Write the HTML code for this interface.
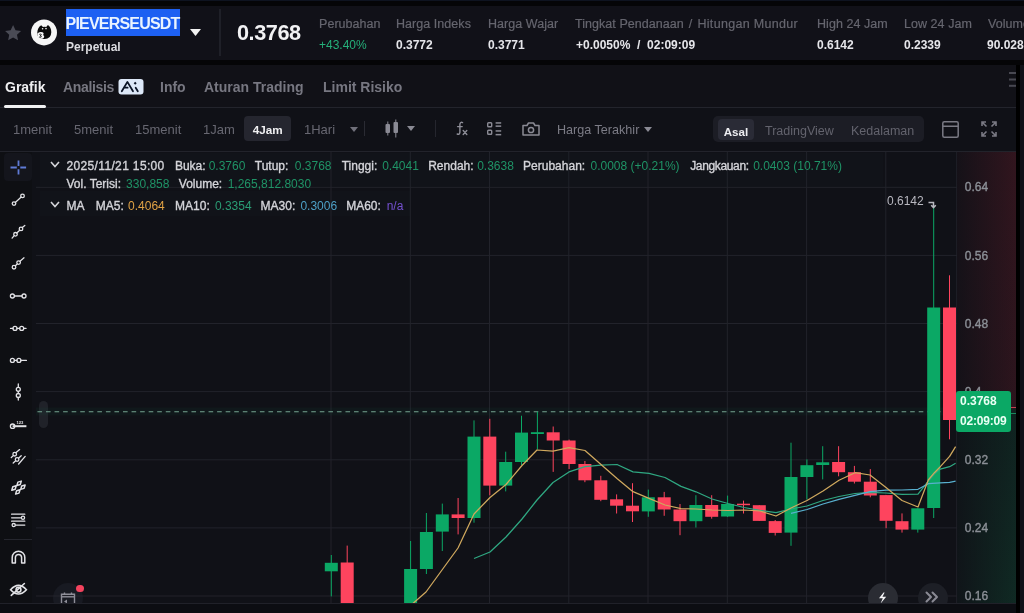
<!DOCTYPE html>
<html><head><meta charset="utf-8">
<style>
*{margin:0;padding:0;box-sizing:border-box}
html,body{width:1024px;height:613px;overflow:hidden;background:#050507;font-family:"Liberation Sans",sans-serif}
#wrap{position:absolute;left:0;top:0;width:1024px;height:613px;will-change:transform}
.a{position:absolute;white-space:nowrap}
#top{position:absolute;left:0;top:0;width:1024px;height:1px;background:#0e1320}
#hdr{position:absolute;left:0;top:6px;width:1024px;height:54px;background:#111118}
#tabs{position:absolute;left:0;top:65px;width:1016px;height:43px;background:#111117}
#tbar{position:absolute;left:0;top:107px;width:1016px;height:45px;background:#101117;border-top:1px solid #23242c}
#chart{position:absolute;left:0;top:151px;width:1016px;height:452px;background:#101117;border-top:1px solid #22232b}
#ltb{position:absolute;left:0;top:152px;width:32px;height:451px;background:#0e0f13}
#bot{position:absolute;left:0;top:603px;width:1016px;height:10px;background:#0c0d12;border-top:1px solid #202129}
#rstrip{position:absolute;left:1016px;top:65px;width:4px;height:548px;background:#000}
#rstrip2{position:absolute;left:1020px;top:65px;width:4px;height:548px;background:#0f1118}
.lbl{color:#66666f;font-size:12.5px;letter-spacing:0.05px;-webkit-text-stroke:0.2px #66666f;top:16.8px}
.val{color:#e6e6ea;font-size:12px;font-weight:bold}
.tab{color:#777781;font-size:14px;font-weight:bold;top:78.5px}
.tf{color:#676771;font-size:13px}
.lg{font-size:12px;color:#d4d4d9;-webkit-text-stroke:0.35px #d4d4d9}
.lgv{font-size:12px}
.gn{color:#1f9366}
</style></head><body><div id="wrap">
<div id="top"></div>
<div id="hdr"></div>
<!-- header content -->
<svg class="a" style="left:3px;top:23.2px" width="20.2" height="20.2" viewBox="0 0 24 24"><path d="M12 2.5l2.9 6.1 6.6.8-4.9 4.6 1.3 6.6L12 17.3l-5.9 3.3 1.3-6.6-4.9-4.6 6.6-.8z" fill="#4a4b55"/></svg>
<svg class="a" style="left:28px;top:16px" width="32" height="32" viewBox="0 0 32 32">
<circle cx="16" cy="16.4" r="13" fill="#f6f6f6"/>
<path d="M9.3 16.5 Q9.5 11.5 13.2 9.3 L15 11 Q16.6 10.5 18.2 11 L19.9 9.1 Q23.3 11.5 23.3 16.3 Q23.1 23 16.6 23.1 Q11.6 23.2 9.6 19.8 Z" fill="#0a0a0a"/>
<path d="M9.6 17.2 Q12 15.3 14.5 16.2 Q16.5 17.3 15 19 Q16.9 19.8 16 21.6 Q14.5 23.4 11.8 22.6 Q9.6 21.6 9.4 19.2 Z" fill="#f6f6f6"/>
<path d="M11.3 18.4 Q12.8 17.8 13.4 18.6 Q13.2 19.4 12.2 19.6 Q13.6 20 13.2 21 Q12.4 21.6 11.2 21" fill="none" stroke="#0a0a0a" stroke-width="0.9"/>
<circle cx="14.6" cy="12.8" r="0.8" fill="#f6f6f6"/><circle cx="18" cy="12.6" r="0.8" fill="#f6f6f6"/>
</svg>
<div class="a" style="left:65.7px;top:8.8px;width:114.3px;height:26.8px;background:#1d60f2"></div>
<div class="a" style="left:65.6px;top:12.2px;font-size:16px;letter-spacing:-0.8px;font-weight:bold;color:#eaf4ff;line-height:24px">PIEVERSEUSDT</div>
<div class="a" style="left:66px;top:40px;font-size:12px;font-weight:bold;color:#dcdce0">Perpetual</div>
<svg class="a" style="left:190px;top:29px" width="11" height="7"><path d="M0 0H11L5.5 7Z" fill="#f2f2f2"/></svg>
<div class="a" style="left:219.2px;top:8.5px;width:1.5px;height:47px;background:#1f2028"></div>
<div class="a" style="left:237px;top:20px;font-size:21.7px;letter-spacing:-0.45px;font-weight:bold;color:#f2f2f4">0.3768</div>

<div class="a lbl" style="left:319px">Perubahan</div>
<div class="a" style="left:319px;top:38px;font-size:12px;color:#25b07a">+43.40%</div>
<div class="a lbl" style="left:396px">Harga Indeks</div>
<div class="a val" style="left:396px;top:38px">0.3772</div>
<div class="a lbl" style="left:488px">Harga Wajar</div>
<div class="a val" style="left:488px;top:38px">0.3771</div>
<div class="a lbl" style="left:575px">Tingkat Pendanaan <span style="margin:0 1.5px">/</span> <span style="letter-spacing:0.32px">Hitungan Mundur</span></div>
<div class="a val" style="left:576px;top:38px">+0.0050%&nbsp; / &nbsp;02:09:09</div>
<div class="a lbl" style="left:817px">High 24 Jam</div>
<div class="a val" style="left:817px;top:38px">0.6142</div>
<div class="a lbl" style="left:904px">Low 24 Jam</div>
<div class="a val" style="left:904px;top:38px">0.2339</div>
<div class="a lbl" style="left:988px">Volume</div>
<div class="a val" style="left:987px;top:38px">90.028</div>

<div id="tabs"></div>
<div class="a" style="left:5px;top:78.5px;font-size:14px;font-weight:bold;color:#f0f0f2">Grafik</div>
<div class="a" style="left:4.2px;top:105.2px;width:41.4px;height:2.6px;border-radius:1.5px;background:#f0f0f2;z-index:2"></div>
<div class="a tab" style="left:63px;letter-spacing:-0.35px">Analisis</div>
<svg class="a" style="left:117.5px;top:78.5px" width="26" height="16" viewBox="0 0 26 16"><rect x="0.5" y="0" width="25" height="15.5" rx="3" fill="#dde8f8"/><g fill="none" stroke="#0b1426" stroke-width="1.8" stroke-linecap="round" stroke-linejoin="round"><path d="M3.8 12.2L9.4 2.9L15 12.2"/><path d="M7 8.7H9.6"/><path d="M17.7 8.8L19.8 12.2"/></g><path d="M17.2 2.8L18.7 4.3L17.2 5.8L15.7 4.3Z" fill="#0b1426"/></svg>
<div class="a tab" style="left:160px;">Info</div>
<div class="a tab" style="left:204px;">Aturan Trading</div>
<div class="a tab" style="left:323px;">Limit Risiko</div>
<div class="a" style="left:1009px;top:72.3px;width:7px;height:1.7px;background:#484851;box-shadow:0 6.5px 0 #484851,0 12.8px 0 #484851"></div>

<div id="tbar"></div>
<div class="a tf" style="left:13px;top:122px">1menit</div>
<div class="a tf" style="left:74px;top:122px">5menit</div>
<div class="a tf" style="left:135px;top:122px">15menit</div>
<div class="a tf" style="left:203px;top:122px">1Jam</div>
<div class="a" style="left:244px;top:116px;width:47px;height:25px;border-radius:4px;background:#25262f"></div>
<div class="a" style="left:252.8px;top:122.5px;font-size:11.7px;font-weight:bold;color:#f0f0f2">4Jam</div>
<div class="a tf" style="left:304px;top:122px">1Hari</div>
<svg class="a" style="left:350px;top:127px" width="8" height="5"><path d="M0 0H8L4 5Z" fill="#70707a"/></svg>
<div class="a" style="left:364px;top:121px;width:1px;height:15px;background:#2a2b33"></div>
<svg class="a" style="left:384px;top:119px" width="16" height="19" viewBox="0 0 16 19"><g fill="#8a8a94"><rect x="1.5" y="5" width="4.5" height="9" rx="1"/><rect x="3.3" y="2.5" width="1" height="14"/><rect x="9.5" y="3" width="4.5" height="11" rx="1"/><rect x="11.3" y="0.5" width="1" height="18"/></g></svg>
<svg class="a" style="left:407px;top:126px" width="8" height="5"><path d="M0 0H8L4 5Z" fill="#8a8a94"/></svg>
<div class="a" style="left:434.8px;top:120px;width:1px;height:17px;background:#25262e"></div>
<svg class="a" style="left:454px;top:121px" width="15" height="15" viewBox="0 0 15 15"><g fill="none" stroke="#8e8e98" stroke-width="1.4" stroke-linecap="round"><path d="M8.6 1.6Q6.4 0.6 5.9 3.2L5.9 11.2Q5.6 14 3.2 13"/><path d="M3.6 5.6H8.2"/><path d="M9.2 9.6L12.8 13.4M12.8 9.6L9.2 13.4"/></g></svg>
<svg class="a" style="left:487px;top:122px" width="15" height="14" viewBox="0 0 15 14"><g fill="none" stroke="#8a8a94" stroke-width="1.4"><rect x="0.7" y="0.7" width="4" height="4" rx="0.8"/><rect x="0.7" y="8.3" width="4" height="4" rx="0.8"/></g><g fill="#8a8a94"><rect x="8.6" y="0.2" width="5.6" height="1.5"/><rect x="8.6" y="3.4" width="5.6" height="1.5"/><rect x="8.6" y="8.2" width="5.6" height="1.5"/><rect x="8.6" y="11.9" width="5.6" height="1.5"/></g></svg>
<svg class="a" style="left:522px;top:122px" width="18" height="14" viewBox="0 0 18 14"><path d="M1 3.5h4l1.5-2.5h5L13 3.5h4V13H1Z" fill="none" stroke="#8a8a94" stroke-width="1.5" stroke-linejoin="round"/><circle cx="9" cy="8" r="2.6" fill="none" stroke="#8a8a94" stroke-width="1.5"/></svg>
<div class="a tf" style="left:557px;top:123.2px;color:#7c7c86;font-size:12.6px">Harga Terakhir</div>
<svg class="a" style="left:644px;top:127px" width="8" height="5"><path d="M0 0H8L4 5Z" fill="#8a8a94"/></svg>

<div class="a" style="left:713px;top:116px;width:211px;height:26px;border-radius:5px;background:#1c1d25"></div>
<div class="a" style="left:718px;top:119px;width:36px;height:20.5px;border-radius:4px;background:#2a2b36"></div>
<div class="a" style="left:723.7px;top:124.5px;font-size:11.6px;font-weight:bold;color:#ececf0">Asal</div>
<div class="a tf" style="left:765px;top:124px;font-size:12.5px;color:#63636d">TradingView</div>
<div class="a tf" style="left:851px;top:124px;font-size:12.5px;color:#63636d">Kedalaman</div>
<svg class="a" style="left:942px;top:121px" width="17" height="17" viewBox="0 0 17 17"><rect x="0.8" y="0.8" width="15.4" height="15.4" rx="1.5" fill="none" stroke="#7a7a84" stroke-width="1.5"/><rect x="1" y="4.5" width="15" height="1.5" fill="#7a7a84"/></svg>
<svg class="a" style="left:981px;top:121px" width="16" height="16" viewBox="0 0 16 16"><g fill="none" stroke="#7a7a84" stroke-width="1.6"><path d="M1 5V1h4M1 1l4.5 4.5M11 1h4v4M15 1l-4.5 4.5M1 11v4h4M1 15l4.5-4.5M15 11v4h-4M15 15l-4.5-4.5"/></g></svg>

<div id="chart"></div><div id="ltb"></div>
<!-- price axis gradient -->
<div class="a" style="left:957px;top:152px;width:59px;height:451px;background:linear-gradient(to bottom,rgba(120,30,45,0.32),rgba(120,30,45,0.27) 56.8%,rgba(15,120,75,0.17) 57.2%,rgba(15,120,75,0.24))"></div>
<div class="a" style="left:957px;top:152px;width:59px;height:451px;background:linear-gradient(to right,rgba(16,17,23,0.85),rgba(16,17,23,0))"></div>
<div class="a" style="left:956px;top:152px;width:1px;height:451px;background:#1c1d25"></div>

<div class="a" style="left:38.5px;top:400.5px;width:9px;height:27.5px;border-radius:4.5px;background:rgba(120,122,135,0.16)"></div>
<svg class="a" style="left:0;top:0" width="1024" height="613">
<line x1="36" y1="187.3" x2="957" y2="187.3" stroke="#22232b" stroke-width="1"/>
<line x1="36" y1="255.4" x2="957" y2="255.4" stroke="#22232b" stroke-width="1"/>
<line x1="36" y1="323.5" x2="957" y2="323.5" stroke="#22232b" stroke-width="1"/>
<line x1="36" y1="391.6" x2="957" y2="391.6" stroke="#22232b" stroke-width="1"/>
<line x1="36" y1="459.8" x2="957" y2="459.8" stroke="#22232b" stroke-width="1"/>
<line x1="36" y1="527.9" x2="957" y2="527.9" stroke="#22232b" stroke-width="1"/>
<line x1="36" y1="596.0" x2="957" y2="596.0" stroke="#22232b" stroke-width="1"/>
<line x1="331.0" y1="152" x2="331.0" y2="603" stroke="#22232b" stroke-width="1"/>
<line x1="410.3" y1="152" x2="410.3" y2="603" stroke="#22232b" stroke-width="1"/>
<line x1="489.5" y1="152" x2="489.5" y2="603" stroke="#22232b" stroke-width="1"/>
<line x1="568.8" y1="152" x2="568.8" y2="603" stroke="#22232b" stroke-width="1"/>
<line x1="648.0" y1="152" x2="648.0" y2="603" stroke="#22232b" stroke-width="1"/>
<line x1="727.3" y1="152" x2="727.3" y2="603" stroke="#22232b" stroke-width="1"/>
<line x1="806.6" y1="152" x2="806.6" y2="603" stroke="#22232b" stroke-width="1"/>
<line x1="885.8" y1="152" x2="885.8" y2="603" stroke="#22232b" stroke-width="1"/>
<rect x="36" y="407.5" width="921" height="8" fill="rgba(20,90,65,0.10)"/>
<line x1="36" y1="411.8" x2="957" y2="411.8" stroke="#74a390" stroke-width="1.1" stroke-dasharray="4.6 3.956" stroke-dashoffset="-1.45"/>
<line x1="331.3" y1="555" x2="331.3" y2="596.4" stroke="#0ba865" stroke-width="1"/>
<rect x="324.8" y="562.8" width="13" height="8.5" fill="#0ba865"/>
<line x1="347.2" y1="545.6" x2="347.2" y2="606" stroke="#fe445e" stroke-width="1"/>
<rect x="340.7" y="562.5" width="13" height="43.5" fill="#fe445e"/>
<line x1="410.6" y1="541" x2="410.6" y2="606" stroke="#0ba865" stroke-width="1"/>
<rect x="404.1" y="569" width="13" height="37.0" fill="#0ba865"/>
<line x1="426.4" y1="513" x2="426.4" y2="574" stroke="#0ba865" stroke-width="1"/>
<rect x="419.9" y="532" width="13" height="37.0" fill="#0ba865"/>
<line x1="442.3" y1="503.6" x2="442.3" y2="551" stroke="#0ba865" stroke-width="1"/>
<rect x="435.8" y="514.4" width="13" height="17.2" fill="#0ba865"/>
<line x1="458.1" y1="498" x2="458.1" y2="534.4" stroke="#fe445e" stroke-width="1"/>
<rect x="451.6" y="514.4" width="13" height="3.6" fill="#fe445e"/>
<line x1="474.0" y1="420.4" x2="474.0" y2="522.7" stroke="#0ba865" stroke-width="1"/>
<rect x="467.5" y="436.6" width="13" height="81.4" fill="#0ba865"/>
<line x1="489.8" y1="418.8" x2="489.8" y2="495.3" stroke="#fe445e" stroke-width="1"/>
<rect x="483.3" y="436.6" width="13" height="49.0" fill="#fe445e"/>
<line x1="505.7" y1="451.7" x2="505.7" y2="491.4" stroke="#0ba865" stroke-width="1"/>
<rect x="499.2" y="462" width="13" height="23.6" fill="#0ba865"/>
<line x1="521.5" y1="415.7" x2="521.5" y2="465" stroke="#0ba865" stroke-width="1"/>
<rect x="515.0" y="432.6" width="13" height="29.4" fill="#0ba865"/>
<line x1="537.4" y1="411.7" x2="537.4" y2="449.6" stroke="#0ba865" stroke-width="1"/>
<rect x="530.9" y="432.2" width="13" height="1.8" fill="#0ba865"/>
<line x1="553.2" y1="426.5" x2="553.2" y2="471.9" stroke="#fe445e" stroke-width="1"/>
<rect x="546.7" y="432.3" width="13" height="8.2" fill="#fe445e"/>
<line x1="569.1" y1="439.6" x2="569.1" y2="469" stroke="#fe445e" stroke-width="1"/>
<rect x="562.6" y="440.5" width="13" height="23.5" fill="#fe445e"/>
<line x1="584.9" y1="461" x2="584.9" y2="482.2" stroke="#fe445e" stroke-width="1"/>
<rect x="578.4" y="464" width="13" height="16.3" fill="#fe445e"/>
<line x1="600.8" y1="475.8" x2="600.8" y2="501.2" stroke="#fe445e" stroke-width="1"/>
<rect x="594.3" y="480.3" width="13" height="19.5" fill="#fe445e"/>
<line x1="616.6" y1="494.4" x2="616.6" y2="513.5" stroke="#fe445e" stroke-width="1"/>
<rect x="610.1" y="499.3" width="13" height="6.4" fill="#fe445e"/>
<line x1="632.5" y1="483.2" x2="632.5" y2="522" stroke="#fe445e" stroke-width="1"/>
<rect x="626.0" y="505.7" width="13" height="5.6" fill="#fe445e"/>
<line x1="648.3" y1="489.6" x2="648.3" y2="516.8" stroke="#0ba865" stroke-width="1"/>
<rect x="641.8" y="497.3" width="13" height="14.1" fill="#0ba865"/>
<line x1="664.2" y1="491.9" x2="664.2" y2="515.8" stroke="#fe445e" stroke-width="1"/>
<rect x="657.7" y="497.3" width="13" height="12.2" fill="#fe445e"/>
<line x1="680.0" y1="504" x2="680.0" y2="535.2" stroke="#fe445e" stroke-width="1"/>
<rect x="673.5" y="509.5" width="13" height="11.7" fill="#fe445e"/>
<line x1="695.9" y1="495.2" x2="695.9" y2="527.5" stroke="#0ba865" stroke-width="1"/>
<rect x="689.4" y="505" width="13" height="16.2" fill="#0ba865"/>
<line x1="711.7" y1="495.2" x2="711.7" y2="518.7" stroke="#fe445e" stroke-width="1"/>
<rect x="705.2" y="505" width="13" height="11.8" fill="#fe445e"/>
<line x1="727.6" y1="495.6" x2="727.6" y2="517" stroke="#0ba865" stroke-width="1"/>
<rect x="721.1" y="504" width="13" height="12.5" fill="#0ba865"/>
<line x1="743.5" y1="500.6" x2="743.5" y2="513.5" stroke="#fe445e" stroke-width="1"/>
<rect x="737.0" y="503.7" width="13" height="1.5" fill="#fe445e"/>
<line x1="759.3" y1="505.2" x2="759.3" y2="520.9" stroke="#fe445e" stroke-width="1"/>
<rect x="752.8" y="505.2" width="13" height="15.7" fill="#fe445e"/>
<line x1="775.2" y1="520" x2="775.2" y2="535.5" stroke="#fe445e" stroke-width="1"/>
<rect x="768.7" y="521.1" width="13" height="11.8" fill="#fe445e"/>
<line x1="791.0" y1="442.7" x2="791.0" y2="545.8" stroke="#0ba865" stroke-width="1"/>
<rect x="784.5" y="477" width="13" height="55.6" fill="#0ba865"/>
<line x1="806.9" y1="459.4" x2="806.9" y2="499.5" stroke="#0ba865" stroke-width="1"/>
<rect x="800.4" y="465.2" width="13" height="11.8" fill="#0ba865"/>
<line x1="822.7" y1="446.2" x2="822.7" y2="479.4" stroke="#0ba865" stroke-width="1"/>
<rect x="816.2" y="462.3" width="13" height="2.7" fill="#0ba865"/>
<line x1="838.6" y1="446.2" x2="838.6" y2="476.3" stroke="#fe445e" stroke-width="1"/>
<rect x="832.1" y="462" width="13" height="10.2" fill="#fe445e"/>
<line x1="854.4" y1="465.9" x2="854.4" y2="483.5" stroke="#fe445e" stroke-width="1"/>
<rect x="847.9" y="472.2" width="13" height="9.5" fill="#fe445e"/>
<line x1="870.3" y1="469.1" x2="870.3" y2="497.3" stroke="#fe445e" stroke-width="1"/>
<rect x="863.8" y="481.7" width="13" height="13.8" fill="#fe445e"/>
<line x1="886.1" y1="495.1" x2="886.1" y2="528.2" stroke="#fe445e" stroke-width="1"/>
<rect x="879.6" y="495.1" width="13" height="25.7" fill="#fe445e"/>
<line x1="902.0" y1="513.4" x2="902.0" y2="532.6" stroke="#fe445e" stroke-width="1"/>
<rect x="895.5" y="521.2" width="13" height="8.4" fill="#fe445e"/>
<line x1="917.8" y1="508.3" x2="917.8" y2="532.6" stroke="#0ba865" stroke-width="1"/>
<rect x="911.3" y="508.3" width="13" height="21.3" fill="#0ba865"/>
<line x1="933.7" y1="207" x2="933.7" y2="518" stroke="#0ba865" stroke-width="1"/>
<rect x="927.2" y="307.5" width="13" height="200.5" fill="#0ba865"/>
<line x1="949.5" y1="275.3" x2="949.5" y2="439.3" stroke="#fe445e" stroke-width="1"/>
<rect x="943.0" y="307.5" width="13" height="112.5" fill="#fe445e"/>
<polyline points="474.0,558.5 490.0,552.0 506.0,537.0 522.0,519.0 537.0,500.0 553.0,482.5 569.0,471.9 585.0,466.7 601.0,465.2 617.0,464.5 633.0,471.9 649.0,473.3 665.0,477.5 681.0,486.4 696.0,491.8 712.0,499.0 728.0,503.5 744.0,507.5 760.0,510.3 776.0,512.7 791.0,509.0 807.0,506.0 823.0,500.5 839.0,496.5 855.0,493.5 870.0,492.4 886.0,493.0 902.0,494.3 918.0,494.2 928.3,481.2 934.4,474.0 940.3,469.1 949.6,466.7 955.6,463.3" fill="none" stroke="#2fa882" stroke-width="1.25" stroke-linejoin="round"/>
<polyline points="791.0,513.3 807.0,509.5 823.0,504.0 839.0,499.3 855.0,495.3 870.0,491.6 886.0,490.2 902.0,490.0 918.0,489.3 928.3,483.7 940.3,482.8 949.6,482.3 955.6,481.1" fill="none" stroke="#58b0cf" stroke-width="1.25" stroke-linejoin="round"/>
<polyline points="405.0,612.0 410.0,606.0 426.0,592.0 442.0,570.0 458.0,548.0 474.0,514.0 490.0,497.5 506.0,484.5 522.0,465.5 537.0,450.0 553.0,451.2 569.0,447.6 585.0,450.5 601.0,464.5 617.0,478.5 633.0,491.7 649.0,498.3 665.0,505.0 681.0,508.7 696.0,509.0 712.0,510.0 728.0,510.5 744.0,510.0 760.0,511.0 776.0,516.0 791.0,508.0 807.0,500.5 823.0,491.0 839.0,480.3 855.0,472.7 870.0,475.0 886.0,487.5 902.0,500.5 918.0,507.0 928.3,480.0 934.4,472.7 940.3,466.7 949.6,456.4 955.6,446.6" fill="none" stroke="#d0a95e" stroke-width="1.25" stroke-linejoin="round"/>
</svg>

<!-- legend -->
<div class="a" style="left:40px;top:153px;width:843px;height:33px;background:rgba(30,31,40,0.15)"></div>
<div class="a" style="left:40px;top:191px;width:370px;height:25px;background:rgba(30,31,40,0.15)"></div>
<svg class="a" style="left:50px;top:161px" width="10" height="7"><path d="M1 1L5 5.5L9 1" fill="none" stroke="#d4d4d9" stroke-width="1.6"/></svg>
<svg class="a" style="left:50px;top:201px" width="10" height="7"><path d="M1 1L5 5.5L9 1" fill="none" stroke="#d4d4d9" stroke-width="1.6"/></svg>
<div class="a lg" style="left:66.5px;top:159px;letter-spacing:0.35px;">2025/11/21 15:00</div>
<div class="a lg" style="left:174.9px;top:159px;">Buka:</div>
<div class="a lgv gn" style="left:208.7px;top:159px;">0.3760</div>
<div class="a lg" style="left:254.8px;top:159px;">Tutup:</div>
<div class="a lgv gn" style="left:294.8px;top:159px;">0.3768</div>
<div class="a lg" style="left:341.7px;top:159px;">Tinggi:</div>
<div class="a lgv gn" style="left:382.2px;top:159px;">0.4041</div>
<div class="a lg" style="left:428.2px;top:159px;">Rendah:</div>
<div class="a lgv gn" style="left:477.2px;top:159px;">0.3638</div>
<div class="a lg" style="left:523.1px;top:159px;">Perubahan:</div>
<div class="a lgv gn" style="left:590.5px;top:159px;">0.0008 (+0.21%)</div>
<div class="a lg" style="left:690.2px;top:159px;letter-spacing:-0.35px">Jangkauan:</div>
<div class="a lgv gn" style="left:753.2px;top:159px;">0.0403 (10.71%)</div>
<div class="a lg" style="left:66.5px;top:176.5px;">Vol. Terisi:</div>
<div class="a lgv gn" style="left:126.1px;top:176.5px;">330,858</div>
<div class="a lg" style="left:178.8px;top:176.5px;">Volume:</div>
<div class="a lgv gn" style="left:227.7px;top:176.5px;">1,265,812.8030</div>
<div class="a lg" style="left:66.5px;top:198.5px;">MA</div>
<div class="a lg" style="left:95.8px;top:198.5px;">MA5:</div>
<div class="a lgv" style="left:128.1px;top:198.5px;color:#e0a245;">0.4064</div>
<div class="a lg" style="left:175.1px;top:198.5px;">MA10:</div>
<div class="a lgv" style="left:214.9px;top:198.5px;color:#2a9c74;">0.3354</div>
<div class="a lg" style="left:260.6px;top:198.5px;">MA30:</div>
<div class="a lgv" style="left:300.4px;top:198.5px;color:#4d9fc6;">0.3006</div>
<div class="a lg" style="left:346.2px;top:198.5px;">MA60:</div>
<div class="a lgv" style="left:386.7px;top:198.5px;color:#7450d0;">n/a</div>

<!-- price labels -->
<div class="a" style="left:964.8px;top:180px;font-size:12px;color:#8c9097;-webkit-text-stroke:0.35px #8c9097">0.64</div>
<div class="a" style="left:964.8px;top:249px;font-size:12px;color:#8c9097;-webkit-text-stroke:0.35px #8c9097">0.56</div>
<div class="a" style="left:964.8px;top:317px;font-size:12px;color:#8c9097;-webkit-text-stroke:0.35px #8c9097">0.48</div>
<div class="a" style="left:964.8px;top:385px;font-size:12px;color:#8c9097;-webkit-text-stroke:0.35px #8c9097">0.4</div>
<div class="a" style="left:964.8px;top:453px;font-size:12px;color:#8c9097;-webkit-text-stroke:0.35px #8c9097">0.32</div>
<div class="a" style="left:964.8px;top:521px;font-size:12px;color:#8c9097;-webkit-text-stroke:0.35px #8c9097">0.24</div>
<div class="a" style="left:964.8px;top:589px;font-size:12px;color:#8c9097;-webkit-text-stroke:0.35px #8c9097">0.16</div>
<div class="a" style="left:956px;top:391px;width:55px;height:41px;border-radius:3px;background:#0ba865"></div>
<div class="a" style="left:960px;top:394px;font-size:12px;font-weight:bold;color:#eafff4">0.3768</div>
<div class="a" style="left:960px;top:414px;font-size:12px;font-weight:bold;color:#eafff4;letter-spacing:-0.2px">02:09:09</div>
<div class="a" style="left:1011px;top:407px;width:5px;height:1px;background:#c0404f"></div>
<div class="a" style="left:1011px;top:413px;width:5px;height:1px;background:#1b8a5e"></div>
<div class="a" style="left:887px;top:194px;font-size:12px;color:#b8b8c0">0.6142</div>
<svg class="a" style="left:928px;top:200.5px" width="9" height="8"><path d="M0.5 1.5H5.5V6.5M3.2 4.3L5.5 6.6L7.8 4.3" fill="none" stroke="#b8b8c0" stroke-width="1.5"/></svg>

<!-- left toolbar -->
<div class="a" style="left:4px;top:153px;width:28px;height:28px;border-radius:4px;background:#14151c"></div>
<svg class="a" style="left:0;top:150px" width="36" height="463" viewBox="0 150 36 463">
<g stroke="#5f7bd6" stroke-width="1.8"><path d="M18.5 160.5v5.4M18.5 169.2v5.4M10.5 167.5h6.3M20.3 167.5h5.8"/></g>
<g fill="none" stroke="#e2e2e6" stroke-width="1.3" stroke-linecap="round">
<path d="M15.3 202.4L21.2 197.1"/><circle cx="14" cy="203.6" r="1.8"/><circle cx="22.5" cy="195.9" r="1.8"/>
<path d="M12.1 238.1L14.2 235.6M16.8 233L19.7 230.2M22.3 227.6L24.8 225.5"/><circle cx="15.5" cy="234.3" r="1.8"/><circle cx="21" cy="228.9" r="1.8"/>
<path d="M15.4 265.7L17.2 264.1M20 261.2L24 257.8"/><circle cx="14" cy="267.2" r="1.8"/><circle cx="18.6" cy="262.6" r="1.8"/>
<path d="M14.4 296H22"/><circle cx="12.4" cy="296" r="2"/><circle cx="24" cy="296" r="2"/>
<path d="M10.5 328.4H13M17 328.4H19.7M23.7 328.4H26"/><circle cx="15" cy="328.4" r="2"/><circle cx="21.7" cy="328.4" r="2"/>
<path d="M14.4 360.4H16.9M20.9 360.4H26.4"/><circle cx="12.4" cy="360.4" r="2"/><circle cx="18.9" cy="360.4" r="2"/>
<path d="M18.3 384V387.3M18.3 391.3V393.5M18.3 397.5V400.1"/><circle cx="18.3" cy="389.3" r="2"/><circle cx="18.3" cy="395.5" r="2"/>
<circle cx="12.6" cy="426.2" r="2.2"/>
<path d="M11.3 457.5L13.3 455.6M16.1 452.6L19.6 449.6M13.2 463L15.4 461M18.8 458L21.2 455.8M18.6 464L25.2 456.4"/><circle cx="14.7" cy="454.2" r="1.8"/><circle cx="17.1" cy="459.5" r="1.8"/>
<path d="M21.3 481.1L20.3 484.5L16.9 485.5L17.9 482.1ZM25.1 485.0L24.1 488.4L20.7 489.4L21.7 486.0ZM20.0 489.7L19.0 493.1L15.6 494.1L16.6 490.7ZM16.2 485.8L15.2 489.2L11.8 490.2L12.8 486.8Z" stroke-width="1.5" stroke-linejoin="round"/>
<path d="M11.6 514.2H24.8M11.6 517.8H21M11.6 521.2H24.8M15.7 525.1H24.8"/><circle cx="23" cy="517.8" r="1.6"/><circle cx="13.7" cy="525.1" r="1.6"/>
<path d="M12.2 563V557.5A6.3 6.3 0 0 1 24.8 557.5V563H21.6V557.5A3.1 3.1 0 0 0 15.4 557.5V563Z" stroke-linejoin="round" stroke-width="1.5"/>
<g stroke-width="1.6"><path d="M10.6 589.7Q18.5 581 26.4 589.7Q18.5 598.4 10.6 589.7Z"/><circle cx="18.5" cy="589.7" r="2.4"/><path d="M11.3 595.4L24.4 583.5"/></g>
</g>
<path d="M12.6 426.2H26.4" stroke="#e2e2e6" stroke-width="2"/>
<text x="16.4" y="423.8" font-size="4.2" font-family="Liberation Sans" font-weight="bold" fill="#e2e2e6">123</text>
<path d="M4 539.5H32" stroke="#25262e" stroke-width="1"/>
</svg>

<!-- bottom buttons -->
<div class="a" style="left:53px;top:583px;width:30px;height:30px;border-radius:50%;background:rgba(40,42,54,0.35)"></div>
<svg class="a" style="left:60px;top:592px" width="17" height="13" viewBox="0 0 17 13"><g fill="none" stroke="#8e8e98" stroke-width="1.4"><path d="M1.5 12V2.2H14.5V12"/><path d="M1.5 4.8H14.5"/><path d="M4.5 0.5V3M11.5 0.5V3"/></g><path d="M4 9.5L7 7.5V11.5Z" fill="#8e8e98"/></svg>
<div class="a" style="left:76px;top:584.5px;width:7.5px;height:7.5px;border-radius:50%;background:#f4435e"></div>
<div class="a" style="left:868px;top:583px;width:30px;height:30px;border-radius:50%;background:#2a2c33"></div>
<svg class="a" style="left:877px;top:592px" width="11" height="12" viewBox="0 0 11 12"><path d="M6.5 0.5L2 6.2H5.8L3.6 11.5L9.2 4.8H5.5L7.6 0.5Z" fill="#f4f4f6"/></svg>
<div class="a" style="left:918px;top:583px;width:30px;height:30px;border-radius:50%;background:#1d1f26"></div>
<svg class="a" style="left:925px;top:591px" width="14" height="12" viewBox="0 0 14 12"><g fill="none" stroke="#8a8a94" stroke-width="2" stroke-linecap="round" stroke-linejoin="round"><path d="M1.5 1.5L6 6L1.5 10.5"/><path d="M7.5 1.5L12 6L7.5 10.5"/></g></svg>

<div id="bot"></div>
<div id="rstrip"></div>
<div id="rstrip2"></div>
</div></body></html>
